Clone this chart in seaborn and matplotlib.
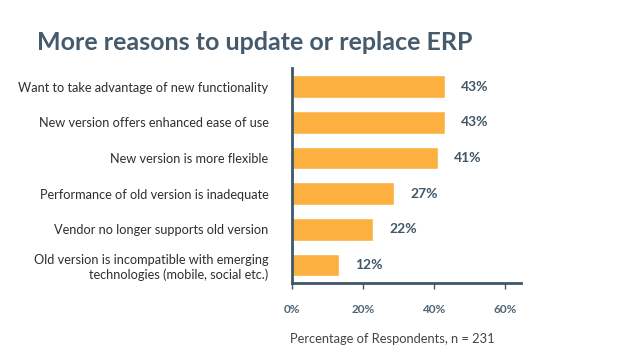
import matplotlib
matplotlib.use("Agg")
import matplotlib.pyplot as plt
import seaborn as sns
import pandas as pd

reasons = [
    "Want to take advantage of new functionality",
    "New version offers enhanced ease of use",
    "New version is more flexible",
    "Performance of old version is inadequate",
    "Vendor no longer supports old version",
    "Old version is incompatible with emerging\ntechnologies (mobile, social etc.)",
]
# bar lengths as drawn in the picture, and the labels printed beside them
bar_length = [43, 43, 41, 28.8, 22.7, 13.2]
value_labels = ["43%", "43%", "41%", "27%", "22%", "12%"]
xticks = [0, 20, 40, 60]

df = pd.DataFrame({"reason": reasons, "percent": bar_length})

sns.set_theme(style="white")
plt.rcParams["font.family"] = ["Lato", "DejaVu Sans"]

slate = "#3f5769"
fig = plt.figure(figsize=(6.3, 3.54), dpi=100)
ax = fig.add_axes([0.4635, 0.2014, 0.3635, 0.6057])

sns.barplot(data=df, x="percent", y="reason", color="#fbb040", saturation=1,
            width=0.63, ax=ax)

for i, (v, lab) in enumerate(zip(bar_length, value_labels)):
    ax.annotate(lab, (v, i), xytext=(12, 0), textcoords="offset points",
                va="center", ha="left", fontsize=10, fontweight="bold", color=slate)

ax.set_xlim(0, 64.5)
ax.set_ylim(5.49, -0.51)
ax.set_xticks(xticks)
ax.set_xticklabels([f"{t}%" for t in xticks], fontsize=8.5, fontweight="bold", color="#4f6575")
ax.tick_params(axis="x", length=4, width=1, color=slate, pad=11, direction="out", bottom=True)
ax.tick_params(axis="y", length=0, pad=17, labelsize=9.2, labelcolor="#2f2f2f")
for lbl in ax.get_yticklabels():
    lbl.set_horizontalalignment("right")
    lbl.set_multialignment("right")

ax.set_ylabel("")
ax.set_xlabel("Percentage of Respondents, n = 231", fontsize=9.3, color="#444444")
ax.xaxis.set_label_coords(0.44, -0.235)

sns.despine(ax=ax)
for side in ["left", "bottom"]:
    ax.spines[side].set_color(slate)
    ax.spines[side].set_linewidth(2)

fig.text(0.058, 0.88, "More reasons to update or replace ERP", fontsize=18,
         fontweight="bold", color="#455b6d", va="center", ha="left")

fig.savefig("out.png", dpi=100)
